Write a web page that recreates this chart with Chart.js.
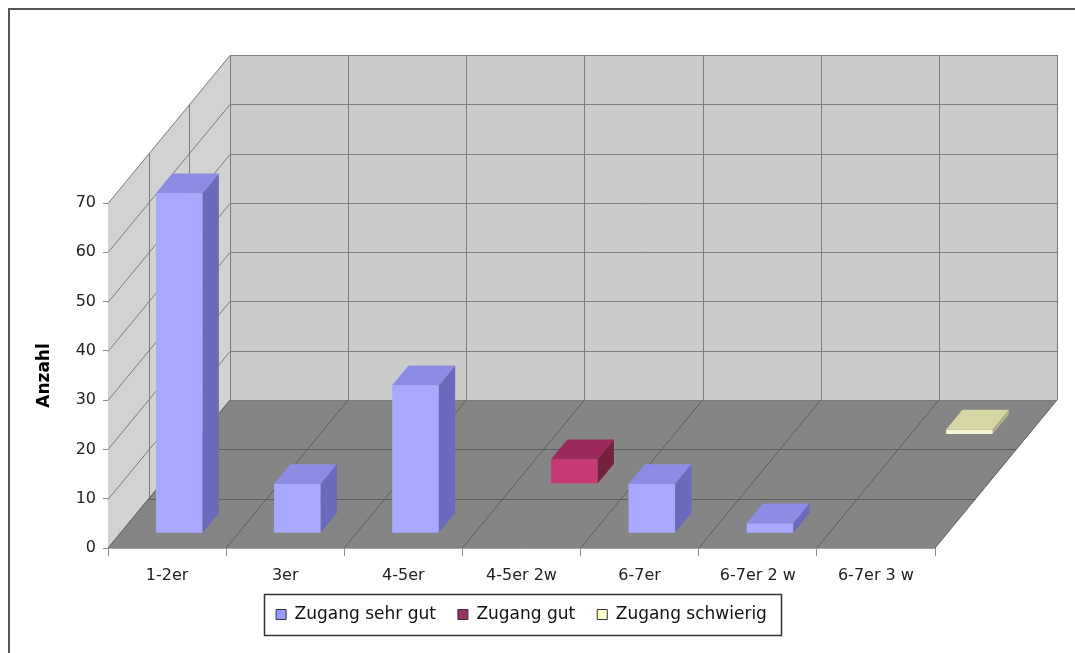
<!DOCTYPE html>
<html>
<head>
<meta charset="utf-8">
<script src="https://cdn.jsdelivr.net/npm/chart.js@4"></script>
<style>
  html, body { margin: 0; padding: 0; background: #fff; }
  canvas { display: block; }
</style>
</head>
<body>
<canvas id="chart" width="1075" height="653"></canvas>
<script>
const categories = ['1-2er', '3er', '4-5er', '4-5er 2w', '6-7er', '6-7er 2 w', '6-7er 3 w'];
const seriesNames = ['Zugang sehr gut', 'Zugang gut', 'Zugang schwierig'];
const sehrGut = [69, 10, 30, 0, 10, 2, 0];
const gut = [0, 0, 0, 5, 0, 0, 0];
const schwierig = [0, 0, 0, 0, 0, 0, 1];
const yMax = 70;
const yStep = 10;

// legend swatch colours, then front / top / side face per series
const legendColors = ['#9999ff', '#993366', '#ffffcc'];
const faceColors = [
  ['#a8a8ff', '#8c8ce4', '#6a6abc'],
  ['#c73a76', '#9c2a5c', '#74203f'],
  ['#f4f4d2', '#d6d6a4', '#aeae84']
];

// oblique depth of the floor in px, bar depth and start inside its row
const DEPTH = { x: 122, y: 148 };
const BAR_DEPTH = 0.4;
const ROW_START = 0.3;

function poly(ctx, pts) {
  ctx.beginPath();
  ctx.moveTo(pts[0][0], pts[0][1]);
  for (let i = 1; i < pts.length; i++) ctx.lineTo(pts[i][0], pts[i][1]);
  ctx.closePath();
}

function line(ctx, x1, y1, x2, y2) {
  ctx.beginPath();
  ctx.moveTo(x1, y1);
  ctx.lineTo(x2, y2);
  ctx.stroke();
}

const box3d = {
  id: 'box3d',
  afterLayout(chart) {
    // centre the legend under the plot
    const lg = chart.legend;
    const a = chart.chartArea;
    const shift = (a.left + a.right) / 2 - (lg.left + lg.right) / 2;
    lg.left += shift;
    lg.right += shift;
  },
  beforeDatasetsDraw(chart) {
    const ctx = chart.ctx;
    const { left: L, right: R, top: T, bottom: B } = chart.chartArea;
    const dx = DEPTH.x, dy = DEPTH.y;
    const rows = chart.data.datasets.length;
    const n = categories.length;
    const cw = (R - L) / n;
    const ys = chart.scales.y;
    ctx.save();
    // back wall
    ctx.fillStyle = '#cbcbcb';
    ctx.fillRect(L + dx, T - dy, R - L, B - T);
    // side wall
    ctx.fillStyle = '#d2d2d2';
    poly(ctx, [[L, T], [L + dx, T - dy], [L + dx, B - dy], [L, B]]);
    ctx.fill();
    // floor
    ctx.fillStyle = '#858585';
    poly(ctx, [[L, B], [R, B], [R + dx, B - dy], [L + dx, B - dy]]);
    ctx.fill();

    ctx.lineWidth = 1;
    ctx.strokeStyle = '#7c7c7c';
    ys.ticks.forEach(t => {
      const y = Math.round(ys.getPixelForValue(t.value)) + 0.5;
      line(ctx, L + dx, y - dy, R + dx, y - dy);
      line(ctx, L, y, L + dx, y - dy);
    });
    for (let i = 0; i <= n; i++) {
      const x = Math.round(L + dx + i * cw) + 0.5;
      line(ctx, x, T - dy, x, B - dy);
    }
    for (let k = 1; k < rows; k++) {
      const x = Math.round(L + dx * k / rows) + 0.5;
      line(ctx, x, T - dy * k / rows, x, B - dy * k / rows);
    }
    // floor grid
    ctx.strokeStyle = '#5e5e5e';
    for (let i = 0; i <= n; i++) {
      const x = L + i * cw;
      line(ctx, x, B, x + dx, B - dy);
    }
    for (let k = 1; k < rows; k++) {
      const y = Math.round(B - dy * k / rows) + 0.5;
      line(ctx, L + dx * k / rows, y, R + dx * k / rows, y);
    }
    ctx.strokeStyle = '#a0a0a0';
    line(ctx, L, B + 0.5, R, B + 0.5);
    ctx.restore();
  },
  beforeDatasetDraw(chart, args) {
    const rows = chart.data.datasets.length;
    const f = (args.index + ROW_START) / rows;
    chart.ctx.save();
    chart.ctx.translate(DEPTH.x * f, -DEPTH.y * f);
  },
  afterDatasetDraw(chart, args) {
    const ctx = chart.ctx;
    const rows = chart.data.datasets.length;
    const bdx = DEPTH.x * BAR_DEPTH / rows;
    const bdy = DEPTH.y * BAR_DEPTH / rows;
    const [, top, side] = faceColors[args.index];
    args.meta.data.forEach(bar => {
      const { x, y, base, width } = bar.getProps(['x', 'y', 'base', 'width'], true);
      if (Math.abs(base - y) < 0.5) return;
      const l = x - width / 2, r = x + width / 2;
      ctx.fillStyle = top;
      poly(ctx, [[l, y], [r, y], [r + bdx, y - bdy], [l + bdx, y - bdy]]);
      ctx.fill();
      ctx.fillStyle = side;
      poly(ctx, [[r, y], [r + bdx, y - bdy], [r + bdx, base - bdy], [r, base]]);
      ctx.fill();
    });
    ctx.restore();
  },
  afterDraw(chart) {
    const ctx = chart.ctx;
    ctx.save();
    // legend frame
    const hb = chart.legend.legendHitBoxes;
    if (hb && hb.length) {
      const x1 = Math.min(...hb.map(h => h.left)) - 12;
      const x2 = Math.max(...hb.map(h => h.left + h.width)) + 14;
      const y1 = Math.min(...hb.map(h => h.top)) - 12;
      const y2 = Math.max(...hb.map(h => h.top + h.height)) + 12;
      ctx.strokeStyle = '#333';
      ctx.lineWidth = 1.5;
      ctx.strokeRect(Math.round(x1) + 0.5, Math.round(y1) + 0.5, Math.round(x2 - x1), Math.round(y2 - y1));
    }
    // outer chart frame
    ctx.strokeStyle = '#555';
    ctx.lineWidth = 2;
    ctx.strokeRect(9, 9, 1200, 800);
    ctx.restore();
  }
};

Chart.defaults.font.family = '"DejaVu Sans", sans-serif';
Chart.defaults.font.size = 16;
Chart.defaults.color = '#222';

const seriesData = [sehrGut, gut, schwierig];

new Chart(document.getElementById('chart'), {
  type: 'bar',
  data: {
    labels: categories,
    datasets: seriesNames.map((name, i) => ({
      label: name,
      data: seriesData[i],
      backgroundColor: faceColors[i][0],
      borderWidth: 0,
      grouped: false,
      clip: false,
      barPercentage: 0.395,
      categoryPercentage: 1
    }))
  },
  options: {
    responsive: false,
    animation: false,
    layout: { padding: { left: 30, top: 203, right: 140, bottom: 20 } },
    plugins: {
      tooltip: { enabled: false },
      legend: {
        position: 'bottom',
        maxHeight: 70,
        labels: {
          boxWidth: 10,
          boxHeight: 10,
          padding: 22,
          color: '#111',
          font: { size: 17 },
          generateLabels(chart) {
            return Chart.defaults.plugins.legend.labels.generateLabels(chart).map((l, i) => ({
              ...l, fillStyle: legendColors[i], strokeStyle: '#333', lineWidth: 1
            }));
          }
        }
      }
    },
    scales: {
      x: {
        grid: { offset: true, drawOnChartArea: false, tickLength: 8, color: '#8a8a8a' },
        border: { display: false },
        ticks: { padding: 10, maxRotation: 0, autoSkip: false },
        afterFit(scale) { scale.height = 36; }
      },
      y: {
        min: 0,
        max: yMax,
        ticks: { stepSize: yStep, padding: 7 },
        grid: { drawOnChartArea: false, tickLength: 5, color: '#8a8a8a' },
        border: { display: false },
        title: {
          display: true,
          text: 'Anzahl',
          color: '#000',
          font: { size: 17, weight: 'bold' },
          padding: { top: 4, bottom: 0 }
        },
        afterFit(scale) { scale.width = 78; }
      }
    }
  },
  plugins: [box3d]
});
</script>
</body>
</html>
